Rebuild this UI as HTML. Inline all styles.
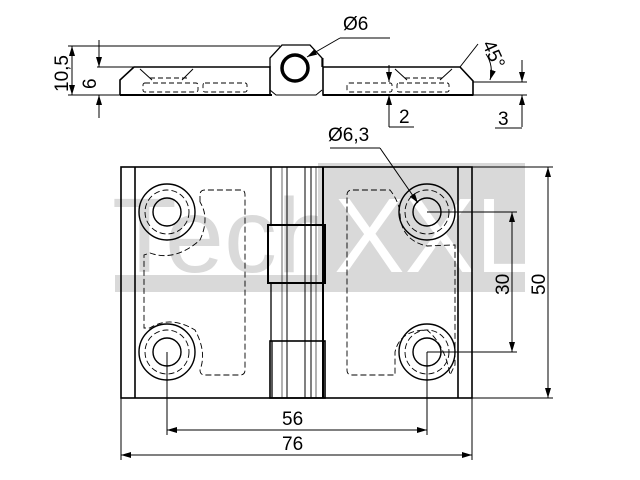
<!DOCTYPE html>
<html><head><style>html,body{margin:0;padding:0;background:#fff}svg{display:block}</style></head><body>
<svg width="640" height="480" viewBox="0 0 640 480" xmlns="http://www.w3.org/2000/svg" font-family="Liberation Sans, sans-serif">
<defs>
<marker id="a" markerWidth="10" markerHeight="6" refX="10" refY="3" orient="auto" markerUnits="userSpaceOnUse"><path d="M0,0L10,3L0,6z" fill="#000"/></marker>
</defs>
<rect x="318" y="163" width="207" height="129" fill="#d9d9d9"/>
<rect x="115" y="275" width="210" height="17" fill="#d9d9d9"/>
<text x="112" y="272" font-size="106" fill="#dadada">Tech</text>
<text x="334" y="272" font-size="106" fill="#fff">XXL</text>

<g fill="none" stroke="#000" stroke-width="1">
<line x1="68" y1="46" x2="280" y2="46"/>
<line x1="68" y1="95" x2="120" y2="95"/>
<line x1="97" y1="67" x2="137" y2="67"/>
<path d="M120,95 L120,80 L134,67 L270,67 L270,95" stroke-width="1.6"/>
<line x1="120" y1="95" x2="272" y2="95" stroke-width="2"/>
<path d="M270,67 L270,58 L282,45 L310,45 L322,58 L322,67" stroke-width="1.3"/>
<path d="M270,67 L270,90 L276,95 L316,95 L322,90" stroke-width="1"/>
<circle cx="295" cy="68" r="13" stroke-width="3.5"/>
<path d="M323,67 L460,67 L473,81 L473,95 L323,95 Z" stroke-width="1.6"/>
<line x1="323" y1="95" x2="473" y2="95" stroke-width="2"/>
<line x1="323" y1="58" x2="323" y2="95"/>
<g stroke-dasharray="5,3" stroke-width="0.9">
<rect x="143" y="83" width="55" height="9" rx="2"/><rect x="203" y="83" width="44" height="9" rx="2"/>
<rect x="347" y="83" width="45" height="9" rx="2"/><rect x="397" y="83" width="52" height="9" rx="2"/>
<line x1="150" y1="78" x2="190" y2="78"/><line x1="405" y1="78" x2="445" y2="78"/>
</g>
<line x1="140" y1="69" x2="152" y2="80"/><line x1="193" y1="69" x2="182" y2="80"/>
<line x1="395" y1="69" x2="407" y2="80"/><line x1="452" y1="69" x2="440" y2="80"/>
<line x1="390" y1="38" x2="340" y2="38"/>
<line x1="340" y1="38" x2="307" y2="57" marker-end="url(#a)"/>
<line x1="72" y1="70" x2="72" y2="46" marker-end="url(#a)"/>
<line x1="72" y1="70" x2="72" y2="95" marker-end="url(#a)"/>
<line x1="99" y1="40" x2="99" y2="67" marker-end="url(#a)"/>
<line x1="99" y1="118" x2="99" y2="95" marker-end="url(#a)"/>
<line x1="389" y1="65" x2="389" y2="82" marker-end="url(#a)"/>
<line x1="389" y1="127" x2="389" y2="95" marker-end="url(#a)"/>
<line x1="389" y1="127" x2="414" y2="127"/>
<line x1="473" y1="82" x2="527" y2="82"/>
<line x1="473" y1="95" x2="527" y2="95"/>
<line x1="522" y1="60" x2="522" y2="82" marker-end="url(#a)"/>
<line x1="522" y1="127" x2="522" y2="95" marker-end="url(#a)"/>
<line x1="495" y1="128" x2="522" y2="128"/>
<line x1="460" y1="67" x2="478" y2="44"/>
<path d="M486,54 A30,30 0 0 1 490,80" marker-end="url(#a)"/>

<rect x="121" y="167" width="351" height="231" stroke-width="1.6"/>
<line x1="135" y1="167" x2="135" y2="398" stroke-width="1.6"/>
<line x1="458" y1="167" x2="458" y2="398" stroke-width="1.6"/>
<line x1="271" y1="167" x2="271" y2="225" stroke-width="1.3"/>
<line x1="271" y1="283" x2="271" y2="341" stroke-width="1.3"/>
<line x1="323" y1="167" x2="323" y2="398" stroke-width="2"/>
<line x1="272" y1="341" x2="272" y2="398" stroke-width="1.3"/>
<line x1="287" y1="167" x2="287" y2="398"/>
<line x1="305" y1="167" x2="305" y2="398"/>
<line x1="311" y1="167" x2="311" y2="398"/>
<line x1="282" y1="167" x2="282" y2="398" stroke-width="0.6"/>
<line x1="316" y1="167" x2="316" y2="398" stroke-width="0.6"/>
<rect x="268" y="225" width="57" height="58" stroke-width="2"/>
<rect x="270" y="341" width="55" height="57" stroke-width="1.6"/>
<g stroke-width="1.4">
<circle cx="167" cy="212" r="28"/><circle cx="167" cy="212" r="14"/>
<circle cx="167" cy="352" r="28"/><circle cx="167" cy="352" r="14"/>
<circle cx="427" cy="212" r="28"/><circle cx="427" cy="212" r="14"/>
<circle cx="427" cy="352" r="28"/><circle cx="427" cy="352" r="14"/>
</g>
<g stroke-dasharray="6,3" stroke-width="0.9">
<circle cx="167" cy="212" r="22"/><circle cx="167" cy="352" r="22"/>
<circle cx="427" cy="212" r="22"/><circle cx="427" cy="352" r="22"/>
<path d="M200,202 L200,195 Q200,190 205,190 L241,190 Q245,190 245,195 L245,370 Q245,375 240,375 L205,375 Q200,375 200,370 Q207,352 195,330 Q170,315 150,328 L144,328 L144,255 L150,253 Q175,262 200,240 Q210,218 200,202"/>
<path d="M347,195 Q347,190 352,190 L390,190 Q398,200 400,212 Q400,240 427,246 Q450,245 455,245 L455,365 L450,375 Q445,345 427,330 Q400,330 395,352 L395,375 L352,375 Q347,375 347,370 Z"/>
</g>
<line x1="330" y1="148" x2="380" y2="148"/>
<line x1="380" y1="148" x2="418" y2="203" marker-end="url(#a)"/>
<line x1="427" y1="212" x2="517" y2="212"/>
<line x1="427" y1="352" x2="517" y2="352"/>
<line x1="512" y1="280" x2="512" y2="212" marker-end="url(#a)"/>
<line x1="512" y1="280" x2="512" y2="352" marker-end="url(#a)"/>
<line x1="472" y1="167" x2="553" y2="167"/>
<line x1="472" y1="398" x2="553" y2="398"/>
<line x1="548" y1="280" x2="548" y2="167" marker-end="url(#a)"/>
<line x1="548" y1="280" x2="548" y2="398" marker-end="url(#a)"/>
<line x1="167" y1="352" x2="167" y2="435"/>
<line x1="427" y1="352" x2="427" y2="435"/>
<line x1="297" y1="430" x2="167" y2="430" marker-end="url(#a)"/>
<line x1="297" y1="430" x2="427" y2="430" marker-end="url(#a)"/>
<line x1="121" y1="398" x2="121" y2="460"/>
<line x1="472" y1="398" x2="472" y2="460"/>
<line x1="297" y1="455" x2="121" y2="455" marker-end="url(#a)"/>
<line x1="297" y1="455" x2="472" y2="455" marker-end="url(#a)"/>
</g>
<g font-size="19" fill="#000">
<text x="343" y="30">Ø6</text>
<text x="328" y="141">Ø6,3</text>
<text x="399" y="123">2</text>
<text x="498" y="125">3</text>
<text x="282" y="425">56</text>
<text x="282" y="450">76</text>
<text transform="translate(68,92) rotate(-90)">10,5</text>
<text transform="translate(96,89) rotate(-90)">6</text>
<text transform="translate(509,295) rotate(-90)">30</text>
<text transform="translate(545,295) rotate(-90)">50</text>
<text transform="translate(482,44) rotate(65)">45°</text>
</g>
</svg>
</body></html>
